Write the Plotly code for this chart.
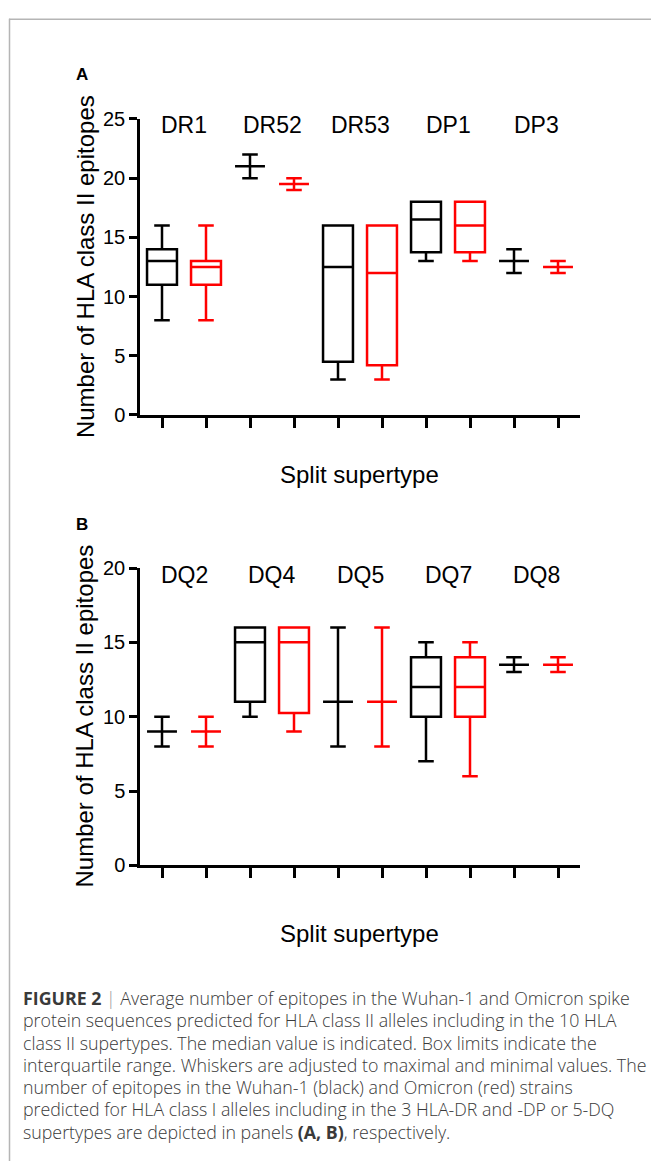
import plotly.graph_objects as go

W, H = 651, 1172

# ---------------- data ----------------
A_categories = ["DR1", "DR52", "DR53", "DP1", "DP3"]
A_wuhan_min = [8, 20, 3, 13, 12]
A_wuhan_q1 = [11, 21, 4.5, 13.75, 13]
A_wuhan_med = [13, 21, 12.5, 16.5, 13]
A_wuhan_q3 = [14, 21, 16, 18, 13]
A_wuhan_max = [16, 22, 16, 18, 14]
A_omicron_min = [8, 19, 3, 13, 12]
A_omicron_q1 = [11, 19.5, 4.2, 13.75, 12.5]
A_omicron_med = [12.5, 19.5, 12, 16, 12.5]
A_omicron_q3 = [13, 19.5, 16, 18, 12.5]
A_omicron_max = [16, 20, 16, 18, 13]

B_categories = ["DQ2", "DQ4", "DQ5", "DQ7", "DQ8"]
B_wuhan_min = [8, 10, 8, 7, 13]
B_wuhan_q1 = [9, 11, 11, 10, 13.5]
B_wuhan_med = [9, 15, 11, 12, 13.5]
B_wuhan_q3 = [9, 16, 11, 14, 13.5]
B_wuhan_max = [10, 16, 16, 15, 14]
B_omicron_min = [8, 9, 8, 6, 13]
B_omicron_q1 = [9, 10.25, 11, 10, 13.5]
B_omicron_med = [9, 15, 11, 12, 13.5]
B_omicron_q3 = [9, 16, 11, 14, 13.5]
B_omicron_max = [10, 16, 16, 15, 14]

A_yticks = [0, 5, 10, 15, 20, 25]
B_yticks = [0, 5, 10, 15, 20]
x_title = "Split supertype"
y_title = "Number of HLA class II epitopes"

caption_lines = [
    "<b>FIGURE 2</b> <span style='color:#999999'>|</span> Average number of epitopes in the Wuhan-1 and Omicron spike",
    "protein sequences predicted for HLA class II alleles including in the 10 HLA",
    "class II supertypes. The median value is indicated. Box limits indicate the",
    "interquartile range. Whiskers are adjusted to maximal and minimal values. The",
    "number of epitopes in the Wuhan-1 (black) and Omicron (red) strains",
    "predicted for HLA class I alleles including in the 3 HLA-DR and -DP or 5-DQ",
    "supertypes are depicted in panels <b>(A, B)</b>, respectively.",
]

# ---------------- helpers ----------------
FONT = "Liberation Sans, Arial, sans-serif"
CAP_FONT = "Open Sans, Liberation Sans, sans-serif"
LW = 2.5


def xp(px):
    """page pixel x -> paper fraction"""
    return px / W


def yp(py):
    """page pixel y -> paper fraction"""
    return 1 - py / H


fig = go.Figure()

pos_w = [2 * i for i in range(5)]
pos_o = [2 * i + 1 for i in range(5)]


def add_boxes(xaxis, yaxis, mins, q1, med, q3, maxs, positions, color):
    fig.add_trace(go.Box(
        x=positions, lowerfence=mins, q1=q1, median=med, q3=q3, upperfence=maxs,
        xaxis=xaxis, yaxis=yaxis, width=0.68, whiskerwidth=0.52,
        line=dict(color=color, width=LW), fillcolor="rgba(0,0,0,0)",
        boxpoints=False, showlegend=False, hoverinfo="skip",
    ))


add_boxes("x", "y", A_wuhan_min, A_wuhan_q1, A_wuhan_med, A_wuhan_q3, A_wuhan_max, pos_w, "black")
add_boxes("x", "y", A_omicron_min, A_omicron_q1, A_omicron_med, A_omicron_q3, A_omicron_max, pos_o, "#ff0000")
add_boxes("x2", "y2", B_wuhan_min, B_wuhan_q1, B_wuhan_med, B_wuhan_q3, B_wuhan_max, pos_w, "black")
add_boxes("x2", "y2", B_omicron_min, B_omicron_q1, B_omicron_med, B_omicron_q3, B_omicron_max, pos_o, "#ff0000")

xdom = [xp(140), xp(580)]
xcommon = dict(domain=xdom, range=[-0.5, 9.5], showgrid=False, zeroline=False,
               showline=True, linecolor="black", linewidth=LW,
               ticks="outside", ticklen=10, tickwidth=LW, tickcolor="black",
               tickvals=list(range(10)), showticklabels=False, fixedrange=True)
ycommon = dict(showgrid=False, zeroline=False, showline=True, linecolor="black",
               linewidth=LW, ticks="outside", ticklen=8, tickwidth=LW,
               tickcolor="black", tickfont=dict(family=FONT, size=20, color="black"),
               fixedrange=True)

fig.update_layout(
    width=W, height=H, margin=dict(l=0, r=0, t=0, b=0),
    paper_bgcolor="white", plot_bgcolor="white", boxmode="overlay",
    font=dict(family=FONT, color="black"),
    xaxis=dict(**xcommon, anchor="y"),
    yaxis=dict(**ycommon, domain=[yp(411.7), yp(110)], range=[0, 25],
               tickvals=A_yticks, anchor="x"),
    xaxis2=dict(**xcommon, anchor="y2"),
    yaxis2=dict(**ycommon, domain=[yp(870.7), yp(567.7)], range=[0, 20],
                tickvals=B_yticks, anchor="x2"),
)

ann = []
# category labels
for i, (ca, cb) in enumerate(zip(A_categories, B_categories)):
    ann.append(dict(x=2 * i + 0.5, y=0.981, xref="x", yref="y domain", text=ca,
                    showarrow=False, font=dict(size=23, family=FONT, color="black"),
                    xanchor="center", yanchor="middle"))
    ann.append(dict(x=2 * i + 0.5, y=0.976, xref="x2", yref="y2 domain", text=cb,
                    showarrow=False, font=dict(size=23, family=FONT, color="black"),
                    xanchor="center", yanchor="middle"))

# axis titles
for yc in (261, 719):
    ann.append(dict(x=xp(85), y=yp(yc), xref="paper", yref="paper", text=y_title,
                    textangle=-90, showarrow=False,
                    font=dict(size=24, family=FONT, color="black"),
                    xanchor="center", yanchor="middle"))
for yc in (472, 940):
    ann.append(dict(x=xp(359), y=yp(yc), xref="paper", yref="paper", text=x_title,
                    showarrow=False, font=dict(size=24, family=FONT, color="black"),
                    xanchor="center", yanchor="middle"))

# panel letters
for letter, (cx, cy) in (("A", (82, 65)), ("B", (82, 523))):
    ann.append(dict(x=xp(cx), y=yp(cy), xref="paper", yref="paper",
                    text="<b>%s</b>" % letter, showarrow=False,
                    font=dict(size=17, family=FONT, color="black"),
                    xanchor="center", yanchor="middle"))

# caption
for k, line in enumerate(caption_lines):
    cy = 1006 + 22.7 * k
    ann.append(dict(x=xp(21), y=yp(cy), xref="paper", yref="paper", text=line,
                    showarrow=False,
                    font=dict(size=17.8, family=CAP_FONT, color="#3a3a3a", weight=300),
                    xanchor="left", yanchor="middle", align="left"))

fig.update_layout(annotations=ann)

# frame border (top and left)
fig.update_layout(shapes=[
    dict(type="line", xref="paper", yref="paper", x0=xp(9), x1=1, y0=yp(8.5), y1=yp(8.5),
         line=dict(color="#b5b5b5", width=1.5)),
    dict(type="line", xref="paper", yref="paper", x0=xp(9.5), x1=xp(9.5), y0=yp(8), y1=0,
         line=dict(color="#b5b5b5", width=1.5)),
])

# pin the figure to the top-left corner of the page (no body margin / stray line boxes)
pin_js = (
    "document.documentElement.style.margin='0';"
    "document.body.style.margin='0';"
    "document.body.style.overflow='hidden';"
    "var gd=document.getElementById('{plot_id}');"
    "gd.style.position='fixed';gd.style.top='0px';gd.style.left='0px';"
)

fig.write_html("out.html", config={"displayModeBar": False}, post_script=pin_js)
